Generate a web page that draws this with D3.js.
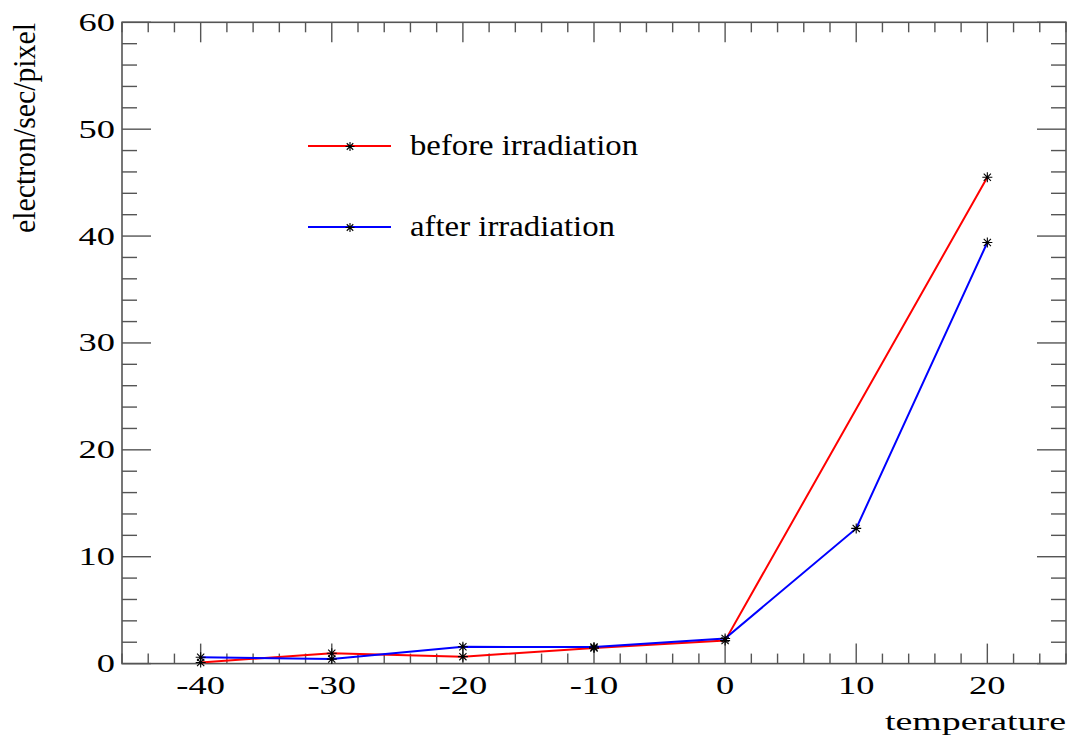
<!DOCTYPE html>
<html><head><meta charset="utf-8">
<script src="https://cdn.jsdelivr.net/npm/d3@7"></script>
<style>html,body{margin:0;padding:0;background:#fff;} svg{display:block;}</style>
</head><body>
<svg id="c" width="1070" height="736"></svg>
<script>
// ---- data ----
const beforeTemps = [-40, -30, -20, -10, 0, 20];
const beforeValues = [0.1, 0.97, 0.65, 1.45, 2.15, 45.5];
const afterTemps = [-40, -30, -20, -10, 0, 10, 20];
const afterValues = [0.6, 0.42, 1.57, 1.55, 2.35, 12.65, 39.4];
const xTickLabels = [-40, -30, -20, -10, 0, 10, 20];
const yTickLabels = [0, 10, 20, 30, 40, 50, 60];
const seriesNames = ["before irradiation", "after irradiation"];
const seriesColors = ["#ff0000", "#0000ff"];

const svg = d3.select("#c");
const L = 122, R = 1066, T = 22.3, B = 663.6;
const x = d3.scaleLinear().domain([-46, 26]).range([L, R]);
const y = d3.scaleLinear().domain([0, 60]).range([B, T]);
const FONT = "'Liberation Serif', 'Times New Roman', serif";
const axisCol = "#555";

// frame
svg.append("rect").attr("x", L).attr("y", T).attr("width", R - L).attr("height", B - T)
  .attr("fill", "none").attr("stroke", axisCol).attr("stroke-width", 1.6);

// ticks
const xMinor = d3.range(-46, 26.001, 2);
const yMinor = d3.range(0, 60.001, 2);
const g = svg.append("g").attr("stroke", axisCol).attr("stroke-width", 1.4);
xMinor.forEach(v => {
  const major = Math.abs(v % 10) < 1e-9;
  const len = major ? 20 : 10;
  g.append("line").attr("x1", x(v)).attr("x2", x(v)).attr("y1", B).attr("y2", B - len);
  g.append("line").attr("x1", x(v)).attr("x2", x(v)).attr("y1", T).attr("y2", T + len);
});
yMinor.forEach(v => {
  const major = Math.abs(v % 10) < 1e-9;
  const len = major ? 29 : 15;
  g.append("line").attr("y1", y(v)).attr("y2", y(v)).attr("x1", L).attr("x2", L + len);
  g.append("line").attr("y1", y(v)).attr("y2", y(v)).attr("x1", R).attr("x2", R - len);
});

function stretch(sel, k) {
  sel.each(function () {
    const w = this.getComputedTextLength();
    d3.select(this).attr("textLength", w * k).attr("lengthAdjust", "spacingAndGlyphs");
  });
}

// tick labels
const xl = svg.append("g").selectAll("text").data(xTickLabels).join("text")
  .style("font-family", FONT)
  .attr("x", d => x(d)).attr("y", 694).attr("text-anchor", "middle")
  .attr("font-size", 25).attr("fill", "#000").text(d => d);
stretch(xl, 1.46);
const yl = svg.append("g").selectAll("text").data(yTickLabels).join("text")
  .style("font-family", FONT)
  .attr("x", 115).attr("y", d => y(d) + 8.5).attr("text-anchor", "end")
  .attr("font-size", 26).attr("fill", "#000").text(d => d);
stretch(yl, 1.4);

// axis titles
svg.append("text").style("font-family", FONT).attr("x", 1066).attr("y", 730).attr("text-anchor", "end")
  .attr("font-size", 26).attr("textLength", 181)
  .attr("lengthAdjust", "spacingAndGlyphs").text("temperature");
svg.append("text").style("font-family", FONT).attr("transform", "translate(35,23) rotate(-90)").attr("text-anchor", "end")
  .attr("font-size", 31).attr("textLength", 210)
  .attr("lengthAdjust", "spacingAndGlyphs").text("electron/sec/pixel");

// lines
const line = d3.line().x(d => x(d[0])).y(d => y(d[1]));
const series = [
  d3.zip(beforeTemps, beforeValues),
  d3.zip(afterTemps, afterValues)
];
series.forEach((s, i) => {
  svg.append("path").datum(s).attr("d", line).attr("fill", "none")
    .attr("stroke", seriesColors[i]).attr("stroke-width", 2);
});

function star(cx, cy, r) {
  const d = r * 0.72;
  return `M${cx - r},${cy}H${cx + r}M${cx},${cy - r}V${cy + r}` +
    `M${cx - d},${cy - d}L${cx + d},${cy + d}M${cx - d},${cy + d}L${cx + d},${cy - d}`;
}
series.forEach(s => {
  svg.append("g").selectAll("path").data(s).join("path")
    .attr("d", d => star(x(d[0]), y(d[1]), 5))
    .attr("stroke", "#000").attr("stroke-width", 1.1).attr("fill", "none");
});

// legend
const legY = [146, 227];
const legTL = [228, 205];
seriesNames.forEach((name, i) => {
  svg.append("line").attr("x1", 308).attr("x2", 391).attr("y1", legY[i]).attr("y2", legY[i])
    .attr("stroke", seriesColors[i]).attr("stroke-width", 2);
  svg.append("path").attr("d", star(350, legY[i] + 0.5, 4.5)).attr("stroke", "#000")
    .attr("stroke-width", 1.1).attr("fill", "none");
  svg.append("text").style("font-family", FONT).attr("x", 410).attr("y", legY[i] + 9)
    .attr("font-size", 29).attr("textLength", legTL[i]).attr("lengthAdjust", "spacingAndGlyphs")
    .text(name);
});
</script>
</body></html>
